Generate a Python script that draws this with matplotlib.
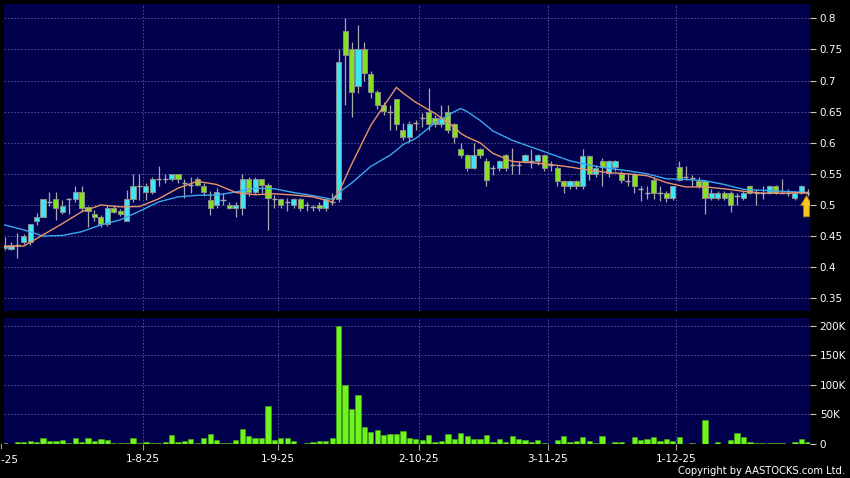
import matplotlib
matplotlib.use("Agg")
import matplotlib.pyplot as plt
from matplotlib.patches import Rectangle, FancyArrow
import matplotlib.transforms as mtransforms

# daily bars, index 0 = 2-7-25
opens = [0.431, 0.4295, 0.435, 0.44, 0.44, 0.475, 0.48, 0.505, 0.5095, 0.489,
         0.5095, 0.5095, 0.521, 0.496, 0.485, 0.48, 0.47, 0.495, 0.4905, 0.475,
         0.5095, 0.53, 0.521, 0.521, 0.541, 0.541, 0.541, 0.55, 0.535, 0.532,
         0.541, 0.531, 0.508, 0.5, 0.508, 0.5, 0.495, 0.495, 0.541, 0.521,
         0.541, 0.532, 0.51, 0.509, 0.505, 0.5, 0.509, 0.5, 0.497, 0.5,
         0.495, 0.505, 0.509, 0.78, 0.75, 0.691, 0.75, 0.71, 0.682, 0.661,
         0.65, 0.67, 0.621, 0.61, 0.632, 0.64, 0.65, 0.639, 0.63, 0.65,
         0.63, 0.59, 0.58, 0.56, 0.59, 0.571, 0.56, 0.56, 0.58, 0.565,
         0.565, 0.571, 0.57, 0.571, 0.58, 0.565, 0.559, 0.538, 0.53, 0.538,
         0.53, 0.579, 0.55, 0.57, 0.551, 0.561, 0.55, 0.539, 0.55, 0.525,
         0.52, 0.54, 0.52, 0.52, 0.511, 0.561, 0.545, 0.543, 0.539, 0.539,
         0.511, 0.511, 0.52, 0.52, 0.515, 0.511, 0.53, 0.52, 0.52, 0.52,
         0.53, 0.52, 0.52, 0.511, 0.52, 0.52]
highs = [0.448, 0.441, 0.455, 0.454, 0.469, 0.487, 0.51, 0.521, 0.521, 0.508,
         0.511, 0.531, 0.531, 0.498, 0.492, 0.484, 0.5, 0.5, 0.494, 0.5245,
         0.55, 0.55, 0.535, 0.545, 0.562, 0.55, 0.55, 0.55, 0.541, 0.545,
         0.545, 0.535, 0.522, 0.527, 0.52, 0.505, 0.505, 0.55, 0.545, 0.545,
         0.541, 0.535, 0.516, 0.512, 0.512, 0.512, 0.512, 0.505, 0.5, 0.505,
         0.512, 0.52, 0.75, 0.8, 0.762, 0.79, 0.762, 0.715, 0.685, 0.665,
         0.66, 0.67, 0.632, 0.635, 0.636, 0.648, 0.688, 0.645, 0.66, 0.66,
         0.632, 0.6, 0.582, 0.6, 0.592, 0.575, 0.565, 0.573, 0.582, 0.591,
         0.57, 0.582, 0.59, 0.582, 0.582, 0.57, 0.562, 0.54, 0.54, 0.54,
         0.59, 0.58, 0.565, 0.575, 0.572, 0.572, 0.555, 0.55, 0.552, 0.53,
         0.53, 0.545, 0.53, 0.522, 0.531, 0.57, 0.562, 0.548, 0.545, 0.54,
         0.525, 0.522, 0.522, 0.522, 0.52, 0.522, 0.532, 0.525, 0.53, 0.532,
         0.532, 0.541, 0.525, 0.522, 0.532, 0.525]
lows = [0.427, 0.427, 0.414, 0.437, 0.436, 0.468, 0.48, 0.498, 0.476, 0.485,
        0.485, 0.505, 0.49, 0.465, 0.474, 0.465, 0.467, 0.487, 0.482, 0.474,
        0.505, 0.508, 0.508, 0.518, 0.53, 0.535, 0.538, 0.535, 0.511, 0.52,
        0.53, 0.515, 0.484, 0.495, 0.5, 0.493, 0.48, 0.484, 0.515, 0.518,
        0.52, 0.46, 0.495, 0.495, 0.49, 0.495, 0.49, 0.49, 0.49, 0.49,
        0.49, 0.5, 0.505, 0.66, 0.641, 0.68, 0.7, 0.672, 0.655, 0.645,
        0.62, 0.62, 0.605, 0.602, 0.62, 0.625, 0.62, 0.625, 0.625, 0.615,
        0.6, 0.575, 0.555, 0.558, 0.575, 0.53, 0.548, 0.555, 0.555, 0.55,
        0.55, 0.567, 0.56, 0.565, 0.555, 0.555, 0.53, 0.52, 0.525, 0.525,
        0.525, 0.54, 0.545, 0.53, 0.545, 0.555, 0.535, 0.53, 0.52, 0.507,
        0.51, 0.51, 0.507, 0.505, 0.508, 0.538, 0.54, 0.53, 0.528, 0.486,
        0.508, 0.508, 0.508, 0.489, 0.5, 0.508, 0.518, 0.5, 0.51, 0.518,
        0.518, 0.519, 0.515, 0.508, 0.518, 0.515]
closes = [0.436, 0.435, 0.435, 0.45, 0.469, 0.48, 0.509, 0.505, 0.495, 0.499,
          0.5095, 0.521, 0.495, 0.4905, 0.48, 0.47, 0.495, 0.4895, 0.4855, 0.5095,
          0.531, 0.53, 0.53, 0.541, 0.541, 0.541, 0.55, 0.541, 0.535, 0.532,
          0.532, 0.521, 0.495, 0.521, 0.508, 0.495, 0.5, 0.541, 0.521, 0.541,
          0.532, 0.511, 0.51, 0.5, 0.505, 0.509, 0.495, 0.5, 0.497, 0.495,
          0.509, 0.505, 0.73, 0.741, 0.682, 0.75, 0.712, 0.682, 0.661, 0.651,
          0.65, 0.63, 0.61, 0.63, 0.632, 0.64, 0.63, 0.63, 0.639, 0.62,
          0.61, 0.58, 0.56, 0.58, 0.58, 0.54, 0.56, 0.571, 0.56, 0.565,
          0.565, 0.58, 0.57, 0.58, 0.56, 0.565, 0.538, 0.53, 0.538, 0.53,
          0.579, 0.55, 0.559, 0.561, 0.57, 0.57, 0.5405, 0.539, 0.531, 0.525,
          0.52, 0.52, 0.52, 0.511, 0.531, 0.5405, 0.545, 0.543, 0.53, 0.511,
          0.52, 0.52, 0.511, 0.5, 0.515, 0.52, 0.52, 0.52, 0.52, 0.53,
          0.52, 0.52, 0.52, 0.52, 0.53, 0.52]
volumes = [1.7, 0.5, 3.4, 3.4, 5, 3.4, 9.6, 5.6, 5.6, 6.2,
           1.1, 10.7, 3.4, 10.7, 5, 9, 6.8, 2.3, 2.3, 2.3,
           10.7, 2.3, 4, 2.3, 1.7, 3.4, 15, 2.8, 5, 9,
           1.7, 10.7, 17.5, 6.8, 2.3, 1.7, 6.2, 25, 13.5, 10.7,
           10.7, 64, 6.8, 9.6, 10.7, 5, 0.5, 1, 4, 5,
           5, 10.7, 200, 100, 59, 83, 28, 20, 24, 16,
           16.4, 17.5, 22, 10, 9, 7.3, 14.7, 4, 5.6, 17,
           8, 18, 13.5, 9, 9, 14.7, 4, 8, 3.4, 13.5,
           8, 6.8, 3.4, 6.8, 1, 0.6, 6.8, 14, 3.4, 5.6,
           12, 5, 1, 14, 0.5, 2.8, 2.8, 0.6, 12, 6.8,
           8.5, 12, 5, 9, 5.6, 12, 0.5, 1.7, 0.4, 41,
           0.5, 4, 0.5, 7.3, 19, 12, 4, 1, 1, 1,
           1, 1.7, 0.5, 3.4, 8, 3]  # thousands of shares

# moving averages (bar index, value)
ma_pos = [0, 3, 6, 9, 12, 15, 18, 21, 24, 27, 30, 33, 36, 39, 42, 45, 48, 51, 52,
          54, 57, 60, 61, 62, 64, 67, 70, 71, 72, 74, 76, 79, 82, 85, 88, 91, 94,
          97, 100, 103, 106, 109, 112, 115, 118, 121, 125]
ma10 = [0.433, 0.434, 0.452, 0.470, 0.489, 0.500, 0.497, 0.4975, 0.510, 0.527,
        0.538, 0.533, 0.520, 0.5165, 0.518, 0.516, 0.513, 0.505, 0.52, 0.565,
        0.628, 0.674, 0.689, 0.680, 0.665, 0.647, 0.625, 0.615, 0.609, 0.600,
        0.583, 0.570, 0.568, 0.565, 0.561, 0.556, 0.552, 0.550, 0.547, 0.536,
        0.529, 0.529, 0.526, 0.522, 0.519, 0.519, 0.520]
ma20 = [0.468, 0.460, 0.450, 0.451, 0.457, 0.468, 0.476, 0.490, 0.505, 0.513,
        0.5155, 0.516, 0.521, 0.527, 0.526, 0.520, 0.515, 0.509, 0.520, 0.535,
        0.562, 0.580, 0.588, 0.597, 0.607, 0.632, 0.650, 0.655, 0.650, 0.636,
        0.619, 0.604, 0.593, 0.582, 0.571, 0.564, 0.559, 0.555, 0.550, 0.542,
        0.541, 0.539, 0.533, 0.525, 0.5235, 0.522, 0.520]

month_start = [0, 22, 43, 65, 85, 105]
month_labels = ["2-7-25", "1-8-25", "1-9-25", "2-10-25", "3-11-25", "1-12-25"]
price_ticks = [0.35, 0.4, 0.45, 0.5, 0.55, 0.6, 0.65, 0.7, 0.75, 0.8]
vol_ticks = [0, 50, 100, 150, 200]

bg = "#00004c"
up_col = "#3de6f5"
down_col = "#86e022"
grid_col = "#5a5a94"

fig = plt.figure(figsize=(8.5, 4.78), dpi=100, facecolor="black")
ax = fig.add_axes([4 / 850, 1 - 311 / 478, 806 / 850, 307 / 478])
axv = fig.add_axes([4 / 850, 1 - 444 / 478, 806 / 850, 126 / 478], sharex=ax)

for a in (ax, axv):
    a.set_facecolor(bg)
    for s in a.spines.values():
        s.set_visible(False)
    a.yaxis.tick_right()
    a.tick_params(axis="y", colors="#c8c8c8", labelcolor="white", length=4,
                  width=0.8, pad=3, labelsize=7.5)
    for m in month_start[1:]:
        a.axvline(m - 0.5, color=grid_col, lw=0.6, ls=(0, (2, 2)), zorder=0)

# candles
for i in range(len(closes)):
    o, h, l, c = opens[i], highs[i], lows[i], closes[i]
    ax.vlines(i, l, h, color="#a8a8a8", lw=0.9, zorder=2)
    if abs(c - o) < 1e-9:
        ax.hlines(c, i - 0.4, i + 0.4, color="#a8a8a8", lw=1.0, zorder=3)
    else:
        col = up_col if c > o else down_col
        ax.add_patch(Rectangle((i - 0.4, min(o, c)), 0.8, abs(c - o),
                               facecolor=col, edgecolor="#8c8c8c", lw=0.7, zorder=3))

ax.plot(ma_pos, ma20, color="#3aa8ee", lw=1.0, zorder=4)
ax.plot(ma_pos, ma10, color="#e8946a", lw=1.0, zorder=4)

# last-bar arrow
n = len(closes)
ax.add_patch(FancyArrow(n - 1.2, 0.481, 0, 0.034, width=0.9, head_width=1.85,
                        head_length=0.016, length_includes_head=True,
                        facecolor="#f7c520", edgecolor="#b07a00", lw=0.6, zorder=6))

xmin, xmax = -0.08, n - 0.65
ax.set_xlim(xmin, xmax)
ax.set_ylim(0.3296, 0.823)
ax.set_yticks(price_ticks)
ax.set_yticklabels(["%g" % p for p in price_ticks])
for p in price_ticks:
    ax.axhline(p, color=grid_col, lw=0.6, ls=(0, (2, 2)), zorder=0)
ax.tick_params(axis="x", bottom=False, labelbottom=False)

axv.bar(range(n), volumes, width=0.82, color="#6ef51c", edgecolor="#48b010",
        lw=0.4, zorder=3)
axv.set_ylim(0, 212.7)
axv.set_yticks(vol_ticks)
axv.set_yticklabels(["0" if v == 0 else "%dK" % v for v in vol_ticks])
for v in vol_ticks[1:]:
    axv.axhline(v, color=grid_col, lw=0.6, ls=(0, (2, 2)), zorder=0)
axv.set_xticks([m - 0.5 for m in month_start[1:]])
axv.set_xticklabels(month_labels[1:])
axv.tick_params(axis="x", colors="#a0a0a0", labelcolor="white", length=4,
                width=0.8, pad=3, labelsize=7.5)
# first month label sits left of the plot edge and is cut by the figure
trans = mtransforms.blended_transform_factory(axv.transData, axv.transAxes)
axv.plot([month_start[0] - 0.5] * 2, [0, -0.035], color="#a0a0a0", lw=0.8,
         transform=trans, clip_on=False)
axv.text(month_start[0] - 0.5, -0.085, month_labels[0], transform=trans,
         ha="center", va="top", color="white", fontsize=7.5, clip_on=False)

fig.text(845 / 850, 1 - 471 / 478, "Copyright by AASTOCKS.com Ltd.",
         ha="right", va="center", color="white", fontsize=7.2)

fig.savefig("out.png", dpi=100, facecolor="black")
